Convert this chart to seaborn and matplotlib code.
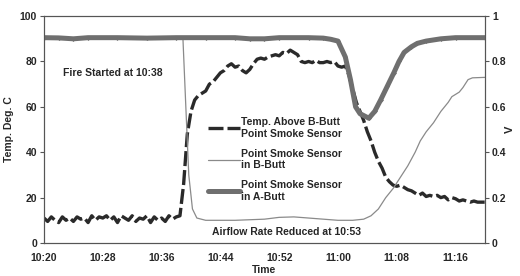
import numpy as np
import matplotlib
matplotlib.use('Agg')
import matplotlib.pyplot as plt
import seaborn as sns

# ========== dados (minutos depois de 10:20) ==========
temp_minutes = np.arange(0, 60.5, 0.5)
temp_values = [
    11, 9.5, 11.5, 10, 9, 11.5, 10, 11, 9.5, 11.5,
    10.5, 11, 9, 12, 10, 11.5, 11, 12, 10, 11.5,
    9, 12, 11, 10, 12, 9.5, 11, 10.5, 12, 9,
    11.5, 10, 11, 9.5, 12, 10.5, 11.5, 12, 26, 48,
    58, 63, 65, 66, 67, 70, 71, 73, 75, 76,
    78, 79, 77.5, 78, 76, 75, 76.5, 79, 81, 81.5,
    81, 82, 82.5, 83, 82.5, 84, 83.5, 85, 84, 83,
    80, 79.5, 80, 79.5, 80.5, 79.5, 79.5, 80, 79.5, 80,
    78, 77.5, 78, 74, 68, 62, 58, 54, 49, 45,
    40, 36, 33, 29, 27, 25.5, 25, 25.5, 24.5, 23.5,
    23, 22, 21, 22, 20.5, 21, 20.5, 21, 20, 20.5,
    19, 20, 19.5, 18.5, 19, 18.5, 18, 18.5, 18, 18,
    18,
]

smoke_b_minutes = [0, 18.9, 19.3, 19.7, 20.2, 20.8, 22, 26, 30, 32, 34, 36, 38, 40, 42,
                   43.5, 44.5, 45.5, 46.5, 47.5, 48.5, 49.5, 50.5, 51.2, 52, 53, 54, 55,
                   55.5, 56, 56.5, 57, 57.7, 58.3, 60]
smoke_b_values = [0.905, 0.905, 0.6, 0.3, 0.15, 0.11, 0.1, 0.1, 0.105, 0.113, 0.115, 0.11,
                  0.105, 0.1, 0.1, 0.105, 0.12, 0.15, 0.2, 0.24, 0.29, 0.34, 0.4, 0.45,
                  0.49, 0.53, 0.58, 0.62, 0.645, 0.655, 0.665, 0.685, 0.72, 0.728, 0.73]

smoke_a_minutes = [0, 2, 4, 6, 10, 14, 18, 22, 26, 28, 30, 32, 36, 38, 39, 40, 41, 41.7,
                   42.4, 43, 44.2, 45, 45.8, 46.7, 47.6, 48.3, 49, 50, 50.8, 52, 54, 56, 60]
smoke_a_values = [0.905, 0.904, 0.9, 0.905, 0.905, 0.903, 0.905, 0.905, 0.905, 0.9,
                  0.9, 0.905, 0.905, 0.903, 0.898, 0.89, 0.82, 0.72, 0.6, 0.57, 0.55,
                  0.58, 0.63, 0.69, 0.75, 0.8, 0.84, 0.865, 0.88, 0.89, 0.9, 0.905, 0.905]

tick_minutes = [0, 8, 16, 24, 32, 40, 48, 56]
tick_labels = ['10:20', '10:28', '10:36', '10:44', '10:52', '11:00', '11:08', '11:16']

# ========== figura ==========
sns.set_style('white')
plt.rcParams['font.family'] = ['Liberation Sans', 'DejaVu Sans']
plt.rcParams['font.weight'] = 'bold'
fs = 7.5

fig = plt.figure(figsize=(5.2, 2.76), dpi=100)
ax = fig.add_axes([0.0846, 0.1196, 0.848, 0.822])
ax2 = ax.twinx()

sns.lineplot(x=temp_minutes, y=temp_values, ax=ax, color='#2a2a2a', linewidth=2.4,
             linestyle=(0, (4.5, 1.2)), label='Temp. Above B-Butt\nPoint Smoke Sensor')
sns.lineplot(x=smoke_b_minutes, y=smoke_b_values, ax=ax2, color='#8a8a8a', linewidth=0.9,
             label='Point Smoke Sensor\nin B-Butt')
sns.lineplot(x=smoke_a_minutes, y=smoke_a_values, ax=ax2, color='#6f6f6f', linewidth=3.6,
             marker='D', markersize=2.5, markeredgewidth=0,
             label='Point Smoke Sensor\nin A-Butt')

ax.set_xlim(0, 60)
ax.set_ylim(0, 100)
ax2.set_ylim(0, 1)
ax.set_xticks(tick_minutes)
ax.set_xticklabels(tick_labels)
ax.set_yticks([0, 20, 40, 60, 80, 100])
ax2.set_yticks([0, 0.2, 0.4, 0.6, 0.8, 1])
ax2.set_yticklabels(['0', '0.2', '0.4', '0.6', '0.8', '1'])

for a in (ax, ax2):
    a.tick_params(labelsize=fs, length=3, width=0.8, direction='out', color='#555555', pad=2)
    for s in a.spines.values():
        s.set_color('#555555')
        s.set_linewidth(0.8)
ax.tick_params(axis='x', pad=4)

ax.set_xlabel('Time', fontsize=fs, fontweight='bold', labelpad=2)
ax.set_ylabel('Temp. Deg. C', fontsize=fs, fontweight='bold', labelpad=4)
ax2.set_ylabel('V', fontsize=fs + 0.5, fontweight='bold')
ax2.yaxis.set_label_coords(1.045, 0.5)

ax.text(2.6, 75, 'Fire Started at 10:38', fontsize=fs, fontweight='bold', va='center')
ax.text(22.9, 5, 'Airflow Rate Reduced at 10:53', fontsize=fs, fontweight='bold', va='center')

# ========== legenda ==========
h1, l1 = ax.get_legend_handles_labels()
h2, l2 = ax2.get_legend_handles_labels()
ax.get_legend().remove()
ax2.get_legend().remove()
ax2.legend(h1 + h2, l1 + l2, loc='upper left', bbox_to_anchor=(0.372, 0.555),
           frameon=False, fontsize=fs, handlelength=3.1, handletextpad=0.1,
           labelspacing=0.95, borderaxespad=0, borderpad=0)

fig.savefig('out.png', dpi=100)
